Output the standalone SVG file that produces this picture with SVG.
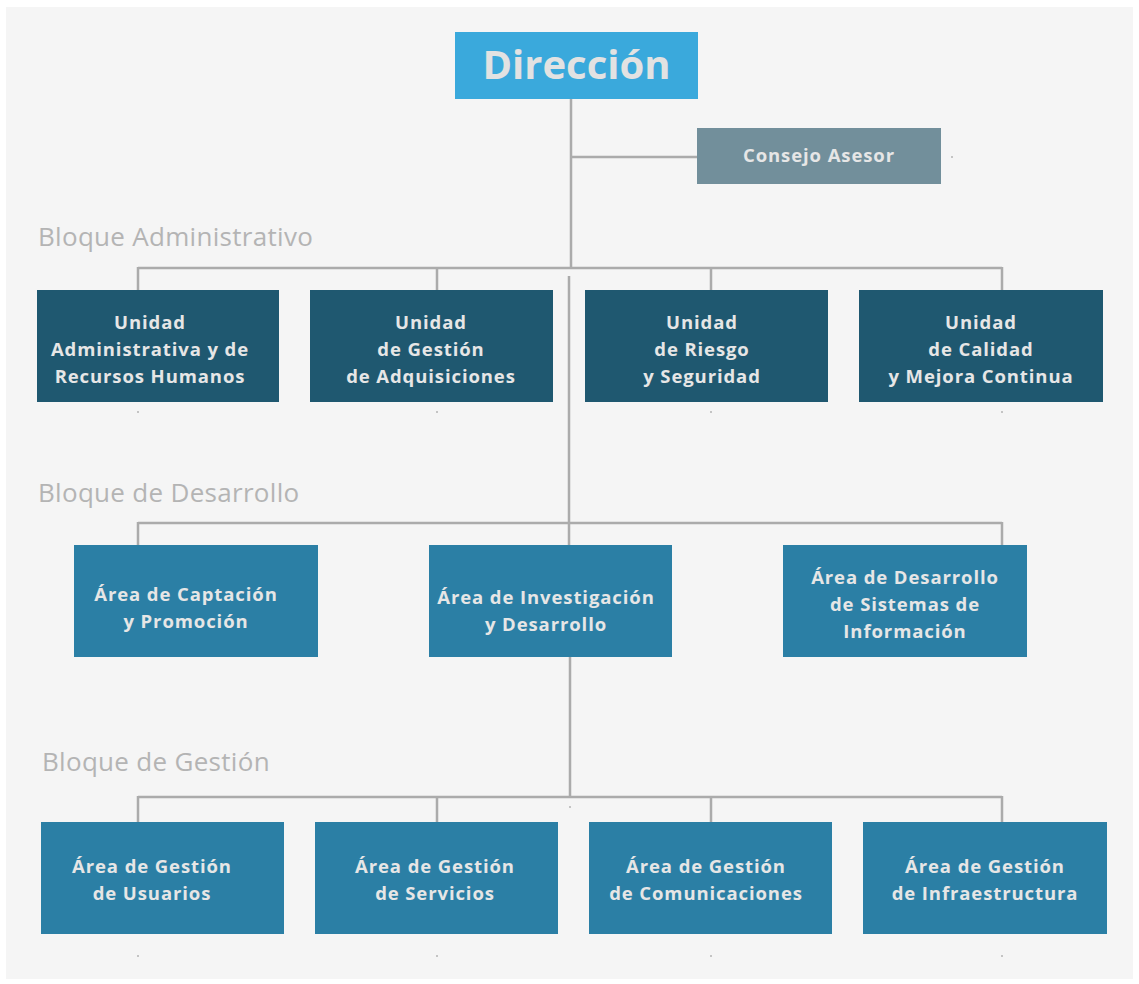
<svg xmlns="http://www.w3.org/2000/svg" width="1139" height="984" viewBox="0 0 1139 984">
<style>
.ln{stroke:#ababab;stroke-width:2.5;fill:none}
.dot{fill:#c4c4c4}
.lbl{font-family:"Open Sans","Liberation Sans",sans-serif;font-size:26px;letter-spacing:0.3px;fill:#b4b4b4}
.t{font-family:"Open Sans","Liberation Sans",sans-serif;font-weight:700;font-size:18.5px;letter-spacing:0.9px;fill:#e6e6e6;text-anchor:middle}
.adm{fill:#1f5870}
.area{fill:#2b7fa5}
</style>
<rect width="1139" height="984" fill="#ffffff"/>
<rect x="6" y="7" width="1127" height="972" fill="#f5f5f5"/>
<text class="lbl" x="38" y="246">Bloque Administrativo</text>
<text class="lbl" x="38" y="502">Bloque de Desarrollo</text>
<text class="lbl" x="42" y="771">Bloque de Gestión</text>
<g id="connectors">
<path class="ln" d="M571 99V268M570 157H697"/>
<path class="ln" d="M569 276V545M570 657V798"/>
<path class="ln" d="M138 268H1002M138 267V290M437 267V290M711 267V290M1002 267V290"/>
<path class="ln" d="M138 523H1002M138 522V545M1002 522V545"/>
<path class="ln" d="M138 797H1002M138 796V822M437 796V822M711 796V822M1002 796V822"/>
<rect class="dot" x="137" y="411" width="2" height="2"/>
<rect class="dot" x="436" y="411" width="2" height="2"/>
<rect class="dot" x="710" y="411" width="2" height="2"/>
<rect class="dot" x="1001" y="411" width="2" height="2"/>
<rect class="dot" x="569" y="806" width="2" height="2"/>
<rect class="dot" x="137" y="955" width="2" height="2"/>
<rect class="dot" x="436" y="955" width="2" height="2"/>
<rect class="dot" x="710" y="955" width="2" height="2"/>
<rect class="dot" x="1001" y="955" width="2" height="2"/>
<rect class="dot" x="951" y="156" width="2" height="2"/>
</g>
<g id="direccion">
<rect x="455" y="32" width="243" height="67" fill="#3aa9dc"/>
<text x="576.5" y="79" font-family="'Open Sans','Liberation Sans',sans-serif" font-weight="700" font-size="40" fill="#e2e2e2" text-anchor="middle">Dirección</text>
</g>
<g id="consejo">
<rect x="697" y="128" width="244" height="56" fill="#728f9b"/>
<text class="t" x="819" y="162" font-size="18" letter-spacing="1">Consejo Asesor</text>
</g>
<g id="u1"><rect class="adm" x="37" y="290" width="242" height="112"/>
<text class="t" x="150" y="329">Unidad</text><text class="t" x="150" y="356">Administrativa y de</text><text class="t" x="150" y="383">Recursos Humanos</text></g>
<g id="u2"><rect class="adm" x="310" y="290" width="243" height="112"/>
<text class="t" x="431" y="329">Unidad</text><text class="t" x="431" y="356">de Gestión</text><text class="t" x="431" y="383">de Adquisiciones</text></g>
<g id="u3"><rect class="adm" x="585" y="290" width="243" height="112"/>
<text class="t" x="702" y="329">Unidad</text><text class="t" x="702" y="356">de Riesgo</text><text class="t" x="702" y="383">y Seguridad</text></g>
<g id="u4"><rect class="adm" x="859" y="290" width="244" height="112"/>
<text class="t" x="981" y="329">Unidad</text><text class="t" x="981" y="356">de Calidad</text><text class="t" x="981" y="383">y Mejora Continua</text></g>
<g id="d1"><rect class="area" x="74" y="545" width="244" height="112"/>
<text class="t" x="186" y="601">Área de Captación</text><text class="t" x="186" y="628">y Promoción</text></g>
<g id="d2"><rect class="area" x="429" y="545" width="243" height="112"/>
<text class="t" x="546" y="604">Área de Investigación</text><text class="t" x="546" y="631">y Desarrollo</text></g>
<g id="d3"><rect class="area" x="783" y="545" width="244" height="112"/>
<text class="t" x="905" y="584">Área de Desarrollo</text><text class="t" x="905" y="611">de Sistemas de</text><text class="t" x="905" y="638">Información</text></g>
<g id="g1"><rect class="area" x="41" y="822" width="243" height="112"/>
<text class="t" x="152" y="873">Área de Gestión</text><text class="t" x="152" y="900">de Usuarios</text></g>
<g id="g2"><rect class="area" x="315" y="822" width="243" height="112"/>
<text class="t" x="435" y="873">Área de Gestión</text><text class="t" x="435" y="900">de Servicios</text></g>
<g id="g3"><rect class="area" x="589" y="822" width="243" height="112"/>
<text class="t" x="706" y="873">Área de Gestión</text><text class="t" x="706" y="900">de Comunicaciones</text></g>
<g id="g4"><rect class="area" x="863" y="822" width="244" height="112"/>
<text class="t" x="985" y="873">Área de Gestión</text><text class="t" x="985" y="900">de Infraestructura</text></g>
</svg>
